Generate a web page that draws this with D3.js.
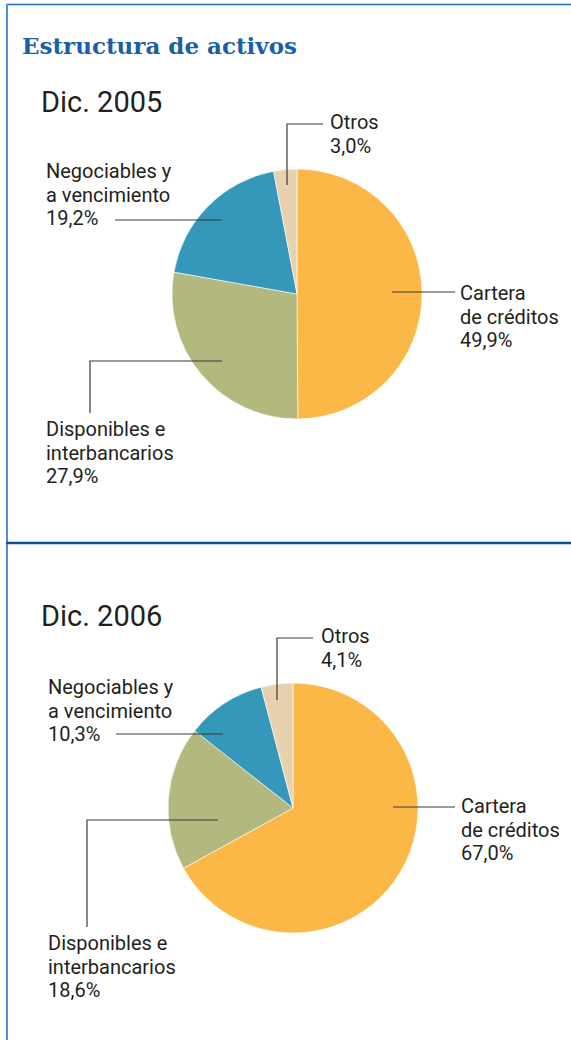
<!DOCTYPE html>
<html>
<head>
<meta charset="utf-8">
<script src="https://cdn.jsdelivr.net/npm/d3@7"></script>
<style>
  body { margin: 0; background: #fff; }
  svg text { font-family: Roboto, "Noto Sans", sans-serif; fill: #231f20; }
</style>
</head>
<body>
<svg id="chart"></svg>
<script>
// Data
const title = "Estructura de activos";
const years = ["Dic. 2005", "Dic. 2006"];
const categories = ["Cartera de créditos", "Disponibles e interbancarios", "Negociables y a vencimiento", "Otros"];
const labelLines = [["Cartera", "de créditos"], ["Disponibles e", "interbancarios"], ["Negociables y", "a vencimiento"], ["Otros"]];
const values2005 = [49.9, 27.9, 19.2, 3.0];
const values2006 = [67.0, 18.6, 10.3, 4.1];
const colors = ["#fcb847", "#b3b87e", "#3597ba", "#e8d1ae"];

// Layout
const width = 571, height = 1040, radius = 125;

const fmt = d3.formatLocale({ decimal: ",", thousands: ".", grouping: [3], currency: ["", "€"] }).format(".1f");

const color = d3.scaleOrdinal().domain(categories).range(colors);

// per panel: pie centre, year label baseline, and leader/label positions (offsets from centre)
const panels = [
  {
    year: years[0], values: values2005, cx: 297, cy: 294, yearY: 112,
    labels: [
      { ax: 95, ay: -2, path: [[158, -2]], tx: 163, ty: 6 },
      { ax: -75, ay: 67, path: [[-207, 67], [-207, 119]], tx: -251, ty: 142 },
      { ax: -75, ay: -74, path: [[-182, -74]], tx: -251, ty: -116 },
      { ax: -10, ay: -109, path: [[-10, -170], [26, -170]], tx: 33, ty: -165 }
    ]
  },
  {
    year: years[1], values: values2006, cx: 293, cy: 808, yearY: 626,
    labels: [
      { ax: 100, ay: -1, path: [[162, -1]], tx: 168, ty: 5 },
      { ax: -75, ay: 12, path: [[-206, 12], [-206, 119]], tx: -245, ty: 142 },
      { ax: -70, ay: -74, path: [[-177, -74]], tx: -245, ty: -114 },
      { ax: -16, ay: -108, path: [[-16, -170], [20, -170]], tx: 28, ty: -165 }
    ]
  }
];

const svg = d3.select("#chart").attr("width", width).attr("height", height);

// frame
svg.append("line").attr("x1", 6).attr("x2", width).attr("y1", 4.5).attr("y2", 4.5)
  .attr("stroke", "#2a6db5").attr("stroke-width", 1.6);
svg.append("line").attr("x1", 7).attr("x2", 7).attr("y1", 4).attr("y2", height)
  .attr("stroke", "#4d8fd0").attr("stroke-width", 2);
svg.append("line").attr("x1", 6).attr("x2", width).attr("y1", 543).attr("y2", 543)
  .attr("stroke", "#0d4f98").attr("stroke-width", 2.5);

svg.append("text")
  .attr("x", 22).attr("y", 54)
  .style("font-family", "'DejaVu Serif', serif")
  .style("font-weight", "bold")
  .style("font-size", "23px")
  .style("fill", "#1b5ea6")
  .text(title);

const pie = d3.pie().sort(null).value(d => d);
const arc = d3.arc().innerRadius(0).outerRadius(radius);
const lineHeight = 23.5;

panels.forEach(p => {
  svg.append("text")
    .attr("x", 41).attr("y", p.yearY)
    .style("font-size", "29px")
    .text(p.year);

  const g = svg.append("g").attr("transform", "translate(" + p.cx + "," + p.cy + ")");

  g.selectAll("path.slice")
    .data(pie(p.values))
    .join("path")
    .attr("class", "slice")
    .attr("d", arc)
    .attr("fill", (d, i) => color(categories[i]))
    .attr("stroke", "#fff")
    .attr("stroke-width", 0.6);

  p.labels.forEach((l, i) => {
    const pts = [[l.ax, l.ay]].concat(l.path);
    g.append("path")
      .attr("d", d3.line()(pts))
      .attr("fill", "none")
      .attr("stroke", "#3a3a3a")
      .attr("stroke-width", 1.2);

    const lines = labelLines[i].concat([fmt(p.values[i]) + "%"]);
    lines.forEach((s, k) => {
      g.append("text")
        .attr("x", l.tx).attr("y", l.ty + k * lineHeight)
        .style("font-size", "20px")
        .text(s);
    });
  });
});
</script>
</body>
</html>
